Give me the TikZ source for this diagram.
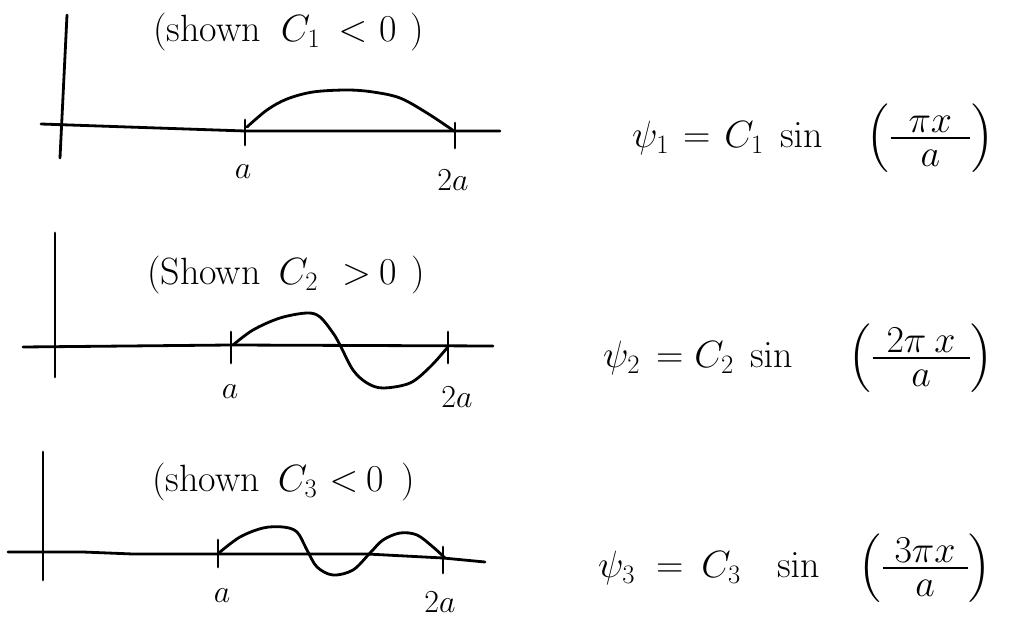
\documentclass[tikz,border=0pt]{standalone}
\usepackage{fix-cm}
\usepackage{amsmath,amssymb}
\usepackage{tikz}

\begin{document}
\begin{tikzpicture}[
    x=1pt, y=-1pt,
    axis/.style={line width=2.8pt, line cap=round, line join=round},
    lbl/.style={inner sep=0pt, font=\fontsize{32}{38}\selectfont},
    note/.style={inner sep=0pt, anchor=west, font=\fontsize{38}{44}\selectfont},
    eqn/.style={inner sep=0pt, anchor=west, font=\fontsize{38}{45}\selectfont}
]
    \useasboundingbox (0,0) rectangle (1017,617);

    % First mode
    \coordinate (a1) at (245,131);
    \coordinate (b1) at (455,131);
    \draw[axis] (67,15) -- (60,158);
    \draw[axis] (41,124) -- (128,127) -- (a1) -- (500,131);
    \draw[axis] (a1) ++(0,-11) -- ++(0,25);
    \draw[axis] (b1) ++(0,-8) -- ++(0,25);
    \draw[axis] plot[smooth, tension=.55] coordinates {(247,127) (267,110) (287,99) (313,92) (347,90) (373,92) (400,98) (427,113) (454,131)};
    \node[lbl] (la1) at (243,172) {$a$};
    \node[lbl] (lb1) at (453,180) {$2a$};
    \node[note] (sign1) at (153,32) {(shown\hspace{20pt}$C_1\hspace{18pt}{<}\hspace{12pt}0$\hspace{14pt})};
    \node[eqn] (psi1) at (632,138) {$\psi_1\hspace{14pt}{=}\hspace{14pt}C_1\hspace{10pt}\sin\hspace{44pt}\Bigl(\frac{\textstyle\hspace{18pt}\pi x\hspace{18pt}}{\rule{0pt}{26pt}\textstyle a}\Bigr)$};

    % Second mode
    \coordinate (a2) at (231,345);
    \coordinate (b2) at (448,345);
    \draw[axis] (55,233) -- (55,377);
    \draw[axis] (23,347) -- (a2) -- (493,346);
    \draw[axis] (a2) ++(0,-13) -- ++(0,31);
    \draw[axis] (b2) ++(0,-13) -- ++(0,31);
    \draw[axis] plot[smooth, tension=.55] coordinates {(233,345) (253,330) (280,318) (307,313) (320,317) (333,333) (340,345) (353,370) (367,383) (383,388) (410,383) (430,367) (447,348)};
    \node[lbl] (la2) at (230,392) {$a$};
    \node[lbl] (lb2) at (457,397) {$2a$};
    \node[note] (sign2) at (147,275) {(Shown\hspace{18pt}$C_2\hspace{24pt}{>}\hspace{8pt}0$\hspace{15pt})};
    \node[eqn] (psi2) at (603,358) {$\psi_2\hspace{16pt}{=}\hspace{11pt}C_2\hspace{10pt}\sin\hspace{56pt}\Bigl(\frac{\textstyle\hspace{14pt}2\pi\hspace{8pt}x\hspace{14pt}}{\rule{0pt}{26pt}\textstyle a}\Bigr)$};

    % Third mode
    \coordinate (a3) at (218,554);
    \coordinate (b3) at (443,558);
    \draw[axis] (43,452) -- (43,580);
    \draw[axis] (8,552) -- (83,552) -- (133,554) -- (a3) -- (367,554) -- (b3) -- (485,562);
    \draw[axis] (a3) ++(0,-14) -- ++(0,27);
    \draw[axis] (b3) ++(0,-11) -- ++(0,26);
    \draw[axis] plot[smooth, tension=.55] coordinates {(220,552) (240,537) (263,528) (283,527) (297,532) (307,550) (317,567) (333,575) (353,570) (370,553) (383,540) (400,533) (417,535) (433,547) (445,558)};
    \node[lbl] (la3) at (222,596) {$a$};
    \node[lbl] (lb3) at (440,602) {$2a$};
    \node[note] (sign3) at (152,482) {(shown\hspace{18pt}$C_3\hspace{12pt}{<}\hspace{8pt}0$\hspace{18pt})};
    \node[eqn] (psi3) at (598,568) {$\psi_3\hspace{21pt}{=}\hspace{18pt}C_3\hspace{30pt}\sin\hspace{39pt}\Bigl(\frac{\textstyle\hspace{12pt}3\pi x\hspace{12pt}}{\rule{0pt}{26pt}\textstyle a}\Bigr)$};

\end{tikzpicture}
\end{document}
